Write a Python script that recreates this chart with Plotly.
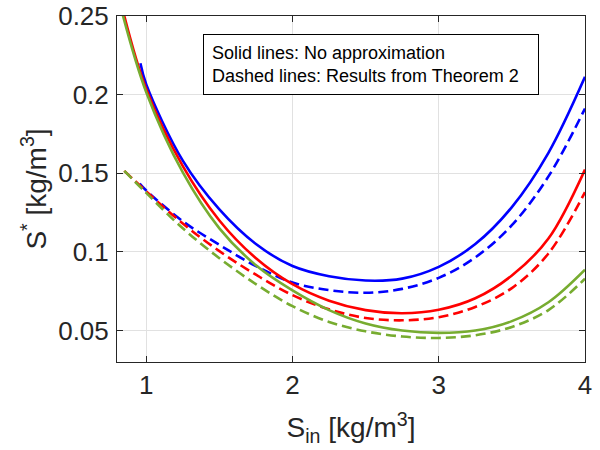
import plotly.graph_objects as go

# ---- data ----
blue_solid_x = [0.96, 1.0, 1.25, 1.5, 1.75, 2.0, 2.25, 2.5, 2.75, 3.0, 3.25, 3.5, 3.75, 4.0]
blue_solid_y = [0.2199, 0.2065, 0.1580, 0.1270, 0.1050, 0.0910, 0.0845, 0.0818, 0.0830, 0.0905, 0.1050, 0.1285, 0.1630, 0.2113]

blue_dash_x = [0.955, 1.0, 1.25, 1.5, 1.75, 2.0, 2.25, 2.5, 2.75, 3.0, 3.25, 3.5, 3.75, 4.0]
blue_dash_y = [0.1434, 0.1390, 0.1195, 0.1045, 0.0910, 0.0805, 0.0757, 0.0740, 0.0765, 0.0835, 0.0965, 0.1170, 0.1480, 0.1912]

red_solid_x = [0.85, 1.0, 1.25, 1.5, 1.75, 2.0, 2.25, 2.5, 2.75, 3.0, 3.25, 3.5, 3.75, 4.0]
red_solid_y = [0.2500, 0.2035, 0.1545, 0.1200, 0.0960, 0.0795, 0.0690, 0.0630, 0.0610, 0.0632, 0.0705, 0.0850, 0.1085, 0.1524]

red_dash_x = [0.85, 1.0, 1.25, 1.5, 1.75, 2.0, 2.25, 2.5, 2.75, 3.0, 3.25, 3.5, 3.75, 4.0]
red_dash_y = [0.1515, 0.1385, 0.1180, 0.1005, 0.0855, 0.0725, 0.0635, 0.0580, 0.0565, 0.0585, 0.0650, 0.0770, 0.0990, 0.1380]

green_solid_x = [0.84, 1.0, 1.25, 1.5, 1.75, 2.0, 2.25, 2.5, 2.75, 3.0, 3.25, 3.5, 3.75, 4.0]
green_solid_y = [0.2505, 0.2015, 0.1505, 0.1150, 0.0915, 0.0755, 0.0630, 0.0545, 0.0500, 0.0485, 0.0500, 0.0560, 0.0680, 0.0887]

green_dash_x = [0.85, 1.0, 1.25, 1.5, 1.75, 2.0, 2.25, 2.5, 2.75, 3.0, 3.25, 3.5, 3.75, 4.0]
green_dash_y = [0.1515, 0.1375, 0.1150, 0.0960, 0.0795, 0.0655, 0.0555, 0.0495, 0.0462, 0.0453, 0.0470, 0.0523, 0.0630, 0.0829]

x_ticks = [1, 2, 3, 4]
x_tick_labels = ["1", "2", "3", "4"]
y_ticks = [0.05, 0.1, 0.15, 0.2, 0.25]
y_tick_labels = ["0.05", "0.1", "0.15", "0.2", "0.25"]

legend_text = "Solid lines: No approximation<br>Dashed lines: Results from Theorem 2"

BLUE = "#0000FF"
RED = "#FF0000"
GREEN = "#77AC30"
FONT = "Liberation Sans, Arial, Helvetica, sans-serif"
AX = "#262626"

fig = go.Figure()

def add(x, y, color, dashed):
    fig.add_trace(go.Scatter(
        x=x, y=y, mode="lines",
        line=dict(color=color, width=2.6, shape="spline", smoothing=1.0,
                  dash="10px,5px" if dashed else "solid"),
        showlegend=False, hoverinfo="skip"))

add(blue_solid_x, blue_solid_y, BLUE, False)
add(blue_dash_x, blue_dash_y, BLUE, True)
add(red_solid_x, red_solid_y, RED, False)
add(red_dash_x, red_dash_y, RED, True)
add(green_solid_x, green_solid_y, GREEN, False)
add(green_dash_x, green_dash_y, GREEN, True)

fig.add_annotation(
    xref="paper", yref="paper", x=0.1838, y=0.948,
    xanchor="left", yanchor="top",
    text=legend_text, showarrow=False, align="left",
    width=318, borderpad=8, bordercolor="#000000", borderwidth=1,
    bgcolor="white",
    font=dict(family=FONT, size=18, color="#000000"))

axis_common = dict(
    showline=True, linecolor=AX, linewidth=1, mirror="ticks",
    ticks="inside", ticklen=6, tickwidth=1, tickcolor=AX,
    showgrid=True, gridcolor="#e1e1e1", gridwidth=1,
    zeroline=False, ticklabeloverflow="allow",
    tickfont=dict(family=FONT, size=26, color=AX),
)

fig.update_xaxes(
    range=[0.8, 4.0], tickvals=x_ticks, ticktext=x_tick_labels,
    title=dict(text="S<sub>in</sub> [kg/m<sup>3</sup>]",
               font=dict(family=FONT, size=28, color=AX), standoff=18),
    ticklabelstandoff=0,
    **axis_common)
fig.update_yaxes(
    range=[0.03, 0.25], tickvals=y_ticks, ticktext=y_tick_labels,
    title=dict(text="S<sup>*</sup> [kg/m<sup>3</sup>]",
               font=dict(family=FONT, size=28, color=AX), standoff=3),
    ticklabelstandoff=2,
    **axis_common)

fig.update_layout(
    width=600, height=450,
    margin=dict(l=117, r=15, t=16, b=88, autoexpand=False),
    paper_bgcolor="white", plot_bgcolor="white",
    font=dict(family=FONT),
    hovermode=False,
)

# remove the page's default 8px body margin so the figure sits at the window origin
fig.write_html("out.html",
               config={"displayModeBar": False, "staticPlot": True},
               post_script="document.body.style.margin='0';")
